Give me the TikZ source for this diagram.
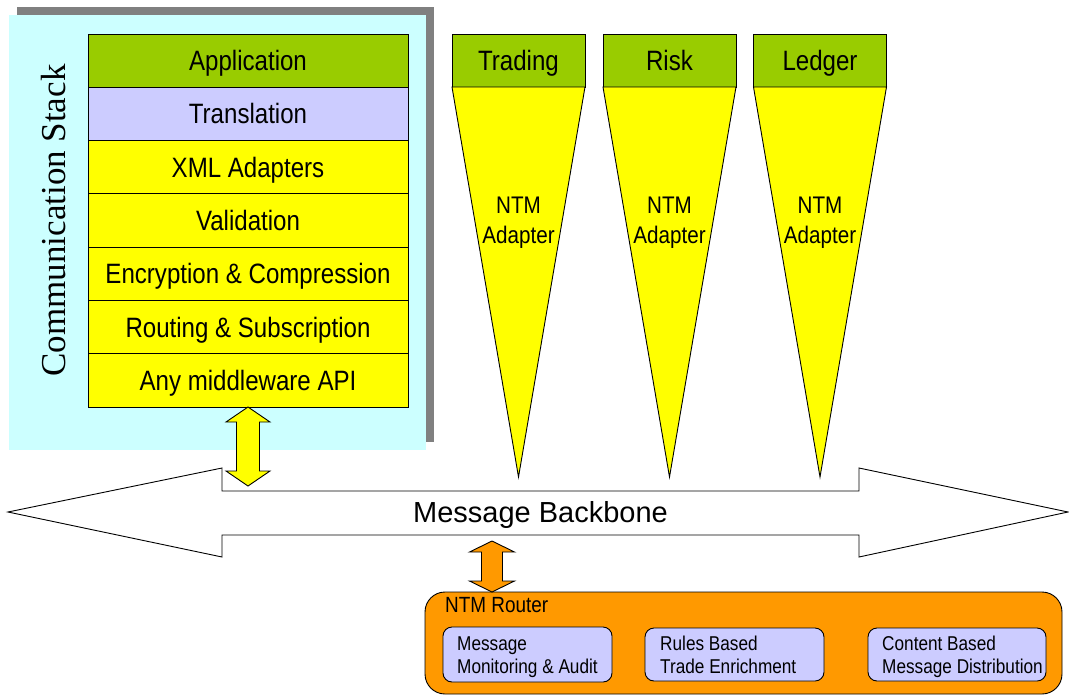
\documentclass[tikz,border=0pt]{standalone}
\usepackage{fontspec}
\setmainfont{Liberation Sans}
\newfontfamily\condensed[FakeStretch=0.86]{Liberation Sans}
\newfontfamily\timesfont{Liberation Serif}

\definecolor{appgreen}{HTML}{99CC00}
\definecolor{lavender}{HTML}{CCCCFF}
\definecolor{layeryellow}{HTML}{FFFF00}
\definecolor{stackcyan}{HTML}{CCFFFF}
\definecolor{shadowgray}{HTML}{808080}
\definecolor{routerorange}{HTML}{FF9900}

\tikzset{
  outline/.style={draw=black, line width=0.9pt},
  layer/.style={outline, minimum width=320pt, minimum height=53.29pt,
    inner sep=0pt, outer sep=0pt,
    font=\condensed\fontsize{28}{32}\selectfont,
    text height=20pt, text depth=0pt},
  apptitle/.style={outline, fill=appgreen, minimum width=133pt, minimum height=53pt,
    inner sep=0pt, outer sep=0pt,
    font=\condensed\fontsize{28}{32}\selectfont,
    text height=20pt, text depth=0pt},
  adaptertext/.style={anchor=base, inner sep=0pt,
    font=\condensed\fontsize{24}{30}\selectfont},
  wedge/.style={outline, fill=layeryellow},
  subbox/.style={outline, fill=lavender, rounded corners=9pt},
  subtext/.style={anchor=base west, inner sep=0pt,
    font=\condensed\fontsize{20}{23}\selectfont},
}

\begin{document}
\begin{tikzpicture}[x=1pt, y=-1pt]
\useasboundingbox (0,0) rectangle (1069,697);

% Communication stack panel with its drop shadow
\fill[shadowgray] (17,7) rectangle (434,442);
\fill[stackcyan] (9,15) rectangle (426,450);

\node[rotate=90, inner sep=0pt, text height=23pt, text depth=0pt,
      font=\timesfont\fontsize{35}{40}\selectfont] (stacktitle) at (53.5,220.5) {Communication Stack};

% Layers of the stack
\node[layer, fill=appgreen]    (app)   at (248,60.64)  {Application};
\node[layer, fill=lavender]    (trans) at (248,113.93) {Translation};
\node[layer, fill=layeryellow] (xml)   at (248,167.22) {XML Adapters};
\node[layer, fill=layeryellow] (valid) at (248,220.5)  {Validation};
\node[layer, fill=layeryellow] (enc)   at (248,273.8)  {Encryption \& Compression};
\node[layer, fill=layeryellow] (route) at (248,327.1)  {Routing \& Subscription};
\node[layer, fill=layeryellow] (mw)    at (248,380.4)  {Any middleware API};

% Application wedges with their NTM adapters
\foreach \name/\cx/\lbl in {trading/518.5/Trading, risk/669.5/Risk, ledger/820/Ledger}{
  \node[apptitle] (\name) at (\cx,60.5) {\lbl};
  \coordinate (\name-tip) at (\cx,477);
  \draw[wedge] (\name.south west) -- (\name-tip) -- (\name.south east) -- cycle;
  \node[adaptertext] (\name-ntm) at (\cx,213) {NTM};
  \node[adaptertext] (\name-adp) at (\cx,243) {Adapter};
}

% Message backbone: double-headed block arrow
\coordinate (bbwest) at (8,512);
\coordinate (bbeast) at (1068,512);
\draw[outline, fill=white]
  (bbwest) -- (222,468) -- (222,491) -- (859,491) -- (859,468) -- (bbeast)
  -- (859,557) -- (859,535) -- (222,535) -- (222,557) -- cycle;
\node[inner sep=0pt, text height=21pt, text depth=0pt,
      font=\fontsize{29}{34}\selectfont] (backbone) at (540.5,511.5) {Message Backbone};

% Link between the stack and the backbone
\draw[outline, fill=layeryellow]
  (248,407) -- (270,422) -- (259.5,422) -- (259.5,471) -- (270,471) -- (248,486)
  -- (226,471) -- (236.5,471) -- (236.5,422) -- (226,422) -- cycle;

% NTM router
\node[outline, fill=routerorange, rounded corners=20pt, minimum width=637pt,
      minimum height=102pt, inner sep=0pt, outer sep=0pt] (router) at (743.5,643) {};
\node[anchor=base west, inner sep=0pt,
      font=\condensed\fontsize{22}{26}\selectfont] (routertitle) at (445,612) {NTM Router};

% Link between the backbone and the router
\draw[outline, fill=routerorange]
  (492,541) -- (514.5,552) -- (502.5,552) -- (502.5,581) -- (514.5,581) -- (492,592)
  -- (469.5,581) -- (481.5,581) -- (481.5,552) -- (469.5,552) -- cycle;

% Router services
\draw[subbox] (443,627) rectangle (612,682);
\node[subtext] (mon1) at (457,650) {Message};
\node[subtext] (mon2) at (457,673) {Monitoring \& Audit};

\draw[subbox] (645,628) rectangle (824,681);
\node[subtext] (rul1) at (660,650) {Rules Based};
\node[subtext] (rul2) at (660,673) {Trade Enrichment};

\draw[subbox] (868,628) rectangle (1046,681);
\node[subtext] (con1) at (882,650) {Content Based};
\node[subtext] (con2) at (882,673) {Message Distribution};
\end{tikzpicture}
\end{document}
